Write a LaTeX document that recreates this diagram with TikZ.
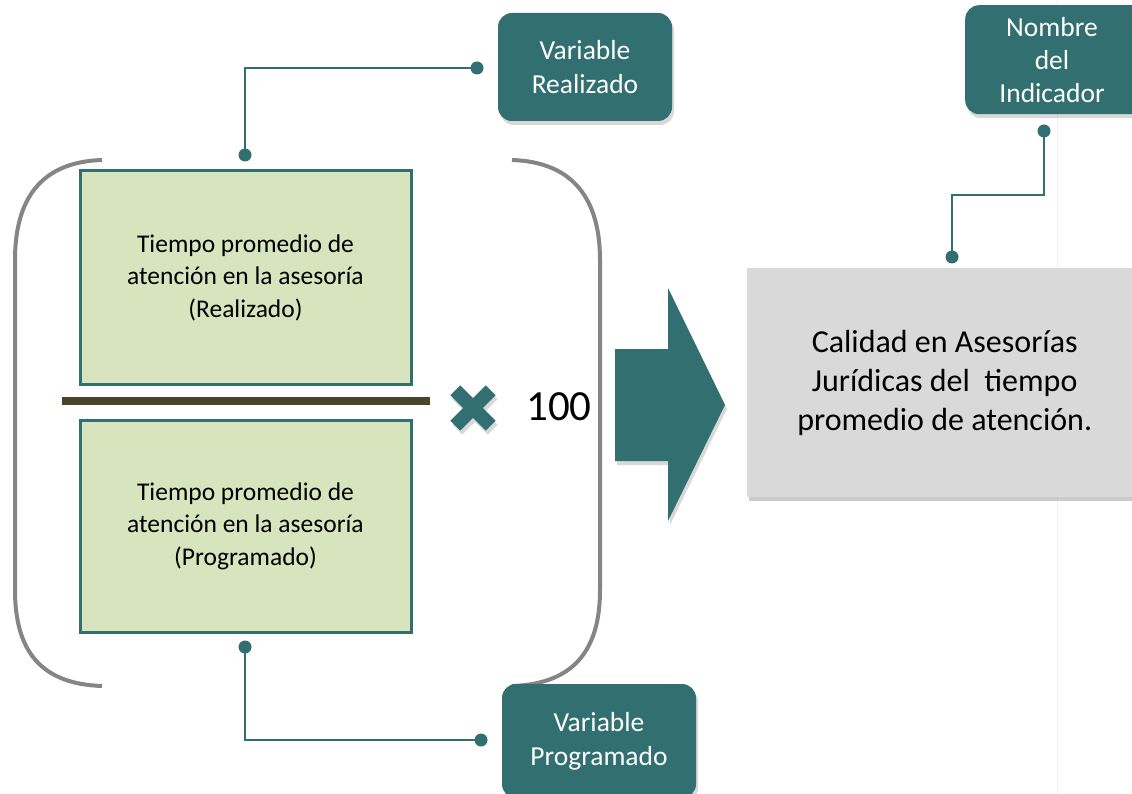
\documentclass[tikz,border=0pt]{standalone}
\usepackage{fontspec}
\setmainfont{Carlito}
\usetikzlibrary{shadows,shapes.misc}
\definecolor{teal1}{HTML}{316F70}
\definecolor{greenfill}{HTML}{D7E4BD}
\definecolor{grayfill}{HTML}{D9D9D9}
\definecolor{bargray}{HTML}{858585}
\definecolor{olive}{HTML}{4A452A}
\tikzset{
  varbox/.style={draw=none, fill=teal1, rounded corners=14pt, text=white, align=center,
    font=\fontsize{27.5}{34}\selectfont, drop shadow={shadow xshift=2pt, shadow yshift=-4pt, opacity=0.3}},
  fracbox/.style={draw=teal1, line width=3pt, fill=greenfill, align=center,
    font=\fontsize{25.5}{32.5}\selectfont, inner sep=0pt},
  resbox/.style={draw=none, fill=grayfill, align=center, font=\fontsize{32}{39}\selectfont,
    drop shadow={shadow xshift=2pt, shadow yshift=-4pt, opacity=0.4}, inner sep=0pt},
  paren/.style={draw=bargray, line width=4pt},
  conn/.style={draw=teal1, line width=1.8pt},
  dot/.style={circle, fill=teal1, inner sep=0pt, minimum size=13pt},
}
\begin{document}
\begin{tikzpicture}[x=1pt,y=-1pt]
\useasboundingbox (0,0) rectangle (1132,794);
\fill[white] (0,0) rectangle (1132,794);
\draw[gray!10, line width=0.8pt] (1057,0) -- (1057,794);

% parentheses
\draw[paren] (102,160) .. controls (40,162) and (15,200) .. (15,260) -- (15,590) .. controls (15,650) and (40,684) .. (102,686);
\draw[paren] (512,160) .. controls (574,162) and (600,200) .. (600,260) -- (600,590) .. controls (600,650) and (574,684) .. (512,686);

% fraction boxes
\node[fracbox, minimum width=331pt, minimum height=213pt] (num) at (245.5,277.5)
  {Tiempo promedio de\\atención en la asesoría\\(Realizado)};
\node[fracbox, minimum width=331pt, minimum height=212pt] (den) at (245.5,526)
  {Tiempo promedio de\\atención en la asesoría\\(Programado)};
\draw[olive, line width=8pt] (62,401) -- (430,401);

% times sign
\begin{scope}[shift={(473,408)}]
\fill[teal1, rotate=45, drop shadow={shadow xshift=2pt, shadow yshift=-4pt, opacity=0.3}]
  (-7,-25) -- (7,-25) -- (7,-7) -- (25,-7) -- (25,7) -- (7,7) -- (7,25) -- (-7,25) -- (-7,7) -- (-25,7) -- (-25,-7) -- (-7,-7) -- cycle;
\end{scope}
\node[font=\fontsize{43}{43}\selectfont, inner sep=0pt] (hundred) at (559,407) {100};

% arrow
\fill[teal1, drop shadow={shadow xshift=2pt, shadow yshift=-4pt, opacity=0.3}]
  (615,349) -- (668,349) -- (668,288) -- (725,405) -- (668,521) -- (668,461) -- (615,461) -- cycle;

% result box
\node[resbox, minimum width=395pt, minimum height=229pt, anchor=north west] (res) at (747,268)
  {Calidad en Asesorías\\Jurídicas del~ tiempo\\promedio de atención.};

% variable boxes
\node[varbox, minimum width=174pt, minimum height=108pt] (vr) at (585,67) {Variable\\Realizado};
\node[varbox, minimum width=194pt, minimum height=114pt] (vp) at (599,741) {Variable\\Programado};
\node[varbox, minimum width=180pt, minimum height=109pt, anchor=north west] (ni) at (965,5) {};
\node[text=white, align=center, font=\fontsize{27.5}{33}\selectfont] (nit) at (1052,60) {Nombre\\del\\Indicador};

% connectors
\node[dot] (d1) at (245,155) {};
\node[dot] (d2) at (477,68) {};
\draw[conn] (d1.center) -- (245,68) -- (d2.center);
\node[dot] (d3) at (245,647) {};
\node[dot] (d4) at (481,740) {};
\draw[conn] (d3.center) -- (245,740) -- (d4.center);
\node[dot] (d5) at (1044,131) {};
\node[dot] (d6) at (952,257) {};
\draw[conn] (d5.center) -- (1044,195) -- (952,195) -- (d6.center);
\end{tikzpicture}
\end{document}
